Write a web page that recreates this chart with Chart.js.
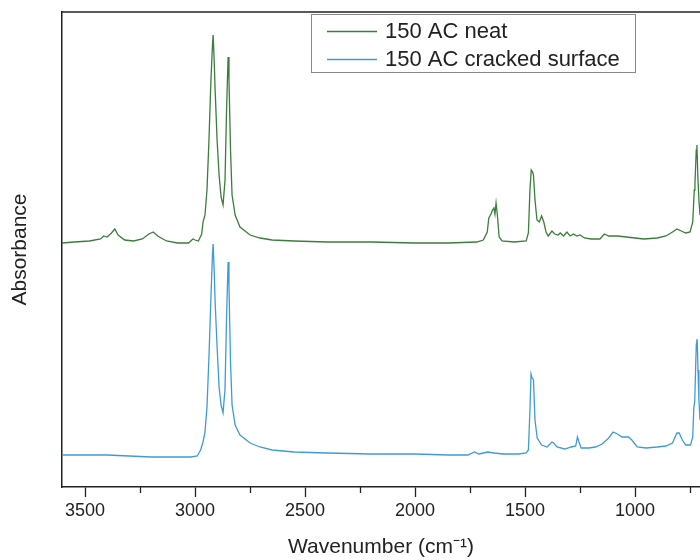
<!DOCTYPE html>
<html lang="en">
  <head>
    <meta charset="UTF-8" />
    <title>FTIR 150 AC</title>
    <script src="https://cdn.jsdelivr.net/npm/chart.js"></script>
    <style>
      html, body { margin: 0; padding: 0; background: #fff; }
      #wrap { width: 700px; height: 560px; }
    </style>
  </head>
  <body>
    <div id="wrap"><canvas id="ftir"></canvas></div>

    <script>
      // wavenumber (cm-1) and absorbance (offset, a.u.)
      const neatWn = [3605,3550,3480,3430,3415,3400,3380,3365,3350,3320,3280,3240,3210,3190,3170,3130,3080,3030,3010,3000,2985,2970,2964,2955,2946,2937,2928,2921,2918,2913,2909,2900,2891,2882,2873,2864,2857,2850,2846,2839,2832,2818,2796,2750,2705,2650,2550,2400,2200,2000,1850,1720,1690,1672,1665,1655,1648,1642,1637,1632,1626,1618,1605,1550,1495,1485,1478,1472,1466,1462,1455,1446,1435,1425,1415,1405,1395,1378,1365,1350,1340,1325,1310,1295,1280,1265,1250,1230,1200,1160,1140,1120,1080,1040,1000,960,900,860,830,810,790,770,750,738,731,728,722,719,715,710,705];
      const neatAbs = [2.44,2.45,2.46,2.48,2.51,2.50,2.54,2.58,2.52,2.47,2.46,2.48,2.53,2.55,2.51,2.46,2.44,2.44,2.48,2.47,2.46,2.53,2.65,2.72,2.97,3.47,4.07,4.42,4.52,4.25,3.97,3.47,3.12,2.90,2.82,3.07,3.77,4.30,4.07,3.37,2.92,2.72,2.60,2.52,2.49,2.47,2.46,2.45,2.45,2.44,2.44,2.45,2.47,2.55,2.69,2.73,2.77,2.79,2.73,2.84,2.72,2.50,2.46,2.45,2.46,2.54,2.97,3.17,3.15,3.12,2.87,2.67,2.65,2.71,2.65,2.55,2.51,2.56,2.53,2.52,2.54,2.51,2.55,2.51,2.53,2.51,2.52,2.49,2.48,2.48,2.53,2.51,2.51,2.50,2.49,2.48,2.49,2.51,2.55,2.58,2.56,2.54,2.55,2.65,2.97,3.03,3.37,3.42,3.12,2.87,2.72];

      const crackedWn = [3605,3500,3400,3300,3200,3100,3020,2990,2975,2964,2955,2946,2937,2928,2921,2918,2913,2909,2900,2891,2882,2873,2864,2857,2850,2846,2839,2832,2818,2796,2750,2705,2650,2550,2400,2200,2000,1850,1760,1730,1710,1690,1670,1640,1600,1530,1495,1485,1478,1473,1468,1462,1455,1445,1425,1400,1378,1370,1355,1320,1290,1270,1262,1255,1245,1210,1180,1150,1120,1100,1080,1060,1030,1015,990,950,900,860,830,810,800,785,770,748,738,733,729,722,718,714,710,705];
      const crackedAbs = [0.32,0.32,0.32,0.31,0.30,0.30,0.30,0.31,0.37,0.45,0.55,0.80,1.30,1.90,2.33,2.43,2.15,1.85,1.40,1.00,0.82,0.74,0.98,1.70,2.25,2.00,1.25,0.82,0.62,0.52,0.44,0.40,0.37,0.35,0.34,0.33,0.33,0.32,0.32,0.35,0.33,0.34,0.35,0.34,0.33,0.33,0.34,0.37,0.77,1.13,1.09,1.07,0.67,0.49,0.42,0.40,0.45,0.44,0.40,0.38,0.40,0.41,0.50,0.45,0.39,0.39,0.40,0.43,0.49,0.55,0.53,0.50,0.50,0.47,0.40,0.39,0.40,0.41,0.44,0.54,0.54,0.47,0.42,0.42,0.50,0.80,0.85,1.42,1.48,1.17,0.87,0.67];

      const seriesNames = ["150 AC neat", "150 AC cracked surface"];
      const seriesColors = ["#3b7d3b", "#3f9bd6"];
      const majorTicks = [3500, 3000, 2500, 2000, 1500, 1000];
      const minorTicks = [3250, 2750, 2250, 1750, 1250, 750];

      const FONT = "'Liberation Sans', Arial, sans-serif";
      const INK = "#222";

      function toPoints(xs, ys) {
        return xs.map((x, i) => ({ x: x, y: ys[i] }));
      }

      // frame top line, minor ticks and the boxed legend
      const extras = {
        id: "extras",
        afterDraw(chart) {
          const ctx = chart.ctx;
          const area = chart.chartArea;
          const xs = chart.scales.x;
          ctx.save();
          ctx.strokeStyle = INK;
          ctx.lineWidth = 1.5;
          ctx.beginPath();
          ctx.moveTo(area.left, area.top);
          ctx.lineTo(area.right, area.top);
          ctx.stroke();
          ctx.lineWidth = 1.3;
          minorTicks.forEach((v) => {
            const px = Math.round(xs.getPixelForValue(v)) + 0.5;
            ctx.beginPath();
            ctx.moveTo(px, area.bottom);
            ctx.lineTo(px, area.bottom + 6);
            ctx.stroke();
          });

          // legend box
          ctx.lineWidth = 1;
          ctx.strokeStyle = "#8a8a8a";
          ctx.strokeRect(311.5, 14.5, 324, 58);
          ctx.font = "22px " + FONT;
          ctx.textBaseline = "middle";
          ctx.fillStyle = INK;
          seriesNames.forEach((name, i) => {
            const y = 31 + i * 28;
            ctx.strokeStyle = seriesColors[i];
            ctx.lineWidth = 1.3;
            ctx.beginPath();
            ctx.moveTo(327, y + 0.5);
            ctx.lineTo(377, y + 0.5);
            ctx.stroke();
            ctx.fillText(name, 385, y + 1);
          });
          ctx.restore();
        },
      };

      new Chart(document.getElementById("ftir"), {
        type: "line",
        data: {
          datasets: [
            {
              label: seriesNames[0],
              data: toPoints(neatWn, neatAbs),
              borderColor: seriesColors[0],
              borderWidth: 1.3,
            },
            {
              label: seriesNames[1],
              data: toPoints(crackedWn, crackedAbs),
              borderColor: seriesColors[1],
              borderWidth: 1.3,
            },
          ],
        },
        options: {
          responsive: true,
          maintainAspectRatio: false,
          animation: false,
          layout: { padding: { top: 12, right: 0, left: 0, bottom: 0 } },
          elements: { point: { radius: 0 }, line: { tension: 0 } },
          plugins: { legend: { display: false }, tooltip: { enabled: false } },
          scales: {
            x: {
              type: "linear",
              reverse: true,
              min: 705,
              max: 3605,
              afterFit(scale) { scale.height = 73; },
              afterBuildTicks(scale) {
                scale.ticks = majorTicks.map((v) => ({ value: v }));
              },
              ticks: {
                color: INK,
                padding: 3,
                maxRotation: 0,
                autoSkip: false,
                font: { family: FONT, size: 18 },
                callback: (v) => String(v),
              },
              grid: {
                display: true,
                drawOnChartArea: false,
                drawTicks: true,
                tickLength: 10,
                tickColor: INK,
                tickWidth: 1.3,
              },
              border: { display: true, color: INK, width: 1.5 },
              title: {
                display: true,
                text: "Wavenumber (cm\u207B\u00B9)",
                color: INK,
                font: { family: FONT, size: 21 },
                padding: { top: 0, bottom: 0 },
              },
            },
            y: {
              min: 0,
              max: 4.75,
              afterFit(scale) { scale.width = 62; },
              ticks: { display: false },
              grid: { display: false },
              border: { display: true, color: INK, width: 1.5 },
              title: {
                display: true,
                text: "Absorbance",
                color: INK,
                font: { family: FONT, size: 21 },
                padding: { top: 8, bottom: 0 },
              },
            },
          },
        },
        plugins: [extras],
      });
    </script>
  </body>
</html>
